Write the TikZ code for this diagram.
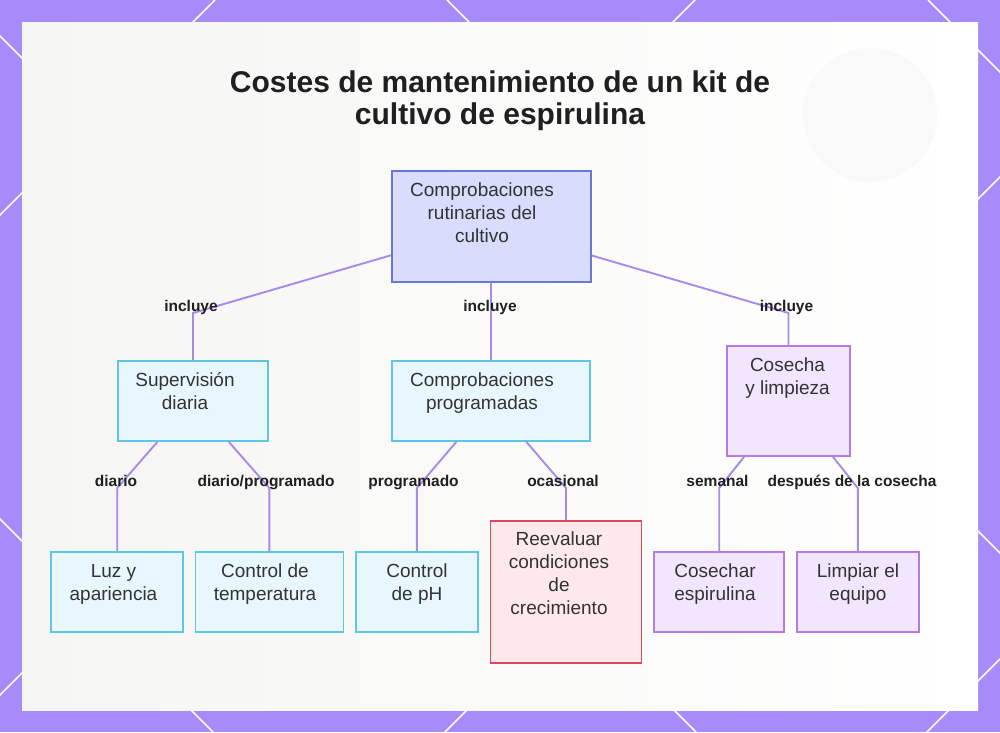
\documentclass[tikz,border=0pt]{standalone}
\usepackage{fontspec}
\setmainfont{Liberation Sans}
\definecolor{bgpurple}{HTML}{A78BFA}
\definecolor{edgec}{HTML}{A68BE8}
\definecolor{rootfill}{HTML}{D9DCFD}
\definecolor{rootdraw}{HTML}{6B78CF}
\definecolor{cyanfill}{HTML}{E8F7FD}
\definecolor{cyandraw}{HTML}{5EC6E3}
\definecolor{purfill}{HTML}{F1E6FD}
\definecolor{purdraw}{HTML}{B57BE3}
\definecolor{redfill}{HTML}{FDE8EC}
\definecolor{reddraw}{HTML}{D9495A}
\definecolor{txt}{HTML}{333333}
\definecolor{ttl}{HTML}{1F1F1F}
\definecolor{panelgrey}{HTML}{F5F5F3}
\tikzset{
  box/.style={rectangle, inner sep=0pt, line width=1.6pt},
  rootbox/.style={box, fill=rootfill, draw=rootdraw},
  cyanbox/.style={box, fill=cyanfill, draw=cyandraw},
  purbox/.style={box, fill=purfill, draw=purdraw},
  redbox/.style={box, fill=redfill, draw=reddraw},
  btext/.style={anchor=north, inner sep=0pt, align=center, text=txt, font=\fontsize{19}{23}\selectfont},
  elabel/.style={anchor=base, inner sep=0pt, text=ttl, font=\bfseries\fontsize{15.5}{18}\selectfont},
  edge/.style={draw=edgec, line width=1.9pt},
  lattice/.style={white, line width=1.5pt},
}
\begin{document}
\begin{tikzpicture}[x=1pt,y=-1pt]
\useasboundingbox (0,0) rectangle (1000,732);
\fill[bgpurple] (0,0) rectangle (1000,732);
\begin{scope}
  \clip (0,0) rectangle (1000,732);
  \foreach \c in {215,695,1177,1659} \draw[lattice] (\c,0) -- (\c-732,732);
  \foreach \d in {-519,-36,447,928} \draw[lattice] (\d,0) -- (\d+732,732);
\end{scope}
% panel
\shade[left color=panelgrey, right color=white] (22,22) rectangle (978,710);
\fill[gray!5] (870,115) circle (67);
\draw[white, line width=0.8pt] (920,655) circle (44);

% title
\node[anchor=north, inner sep=0pt, align=center, text=ttl, font=\bfseries\fontsize{30}{32}\selectfont] (title) at (500,69.6)
  {\strut Costes de mantenimiento de un kit de\\cultivo de espirulina};

% boxes
\node[rootbox, minimum width=199pt, minimum height=111pt] (root) at (491.2,226.2) {};
\node[cyanbox, minimum width=150pt, minimum height=80pt] (sup) at (193,401) {};
\node[cyanbox, minimum width=198pt, minimum height=80pt] (prog) at (491.2,401) {};
\node[purbox, minimum width=123pt, minimum height=110pt] (cos) at (788.5,401) {};
\node[cyanbox, minimum width=132pt, minimum height=80pt] (luz) at (117.2,592) {};
\node[cyanbox, minimum width=148pt, minimum height=80pt] (temp) at (269.3,592) {};
\node[cyanbox, minimum width=122pt, minimum height=80pt] (ph) at (416.9,592) {};
\node[redbox, minimum width=151pt, minimum height=142pt] (reev) at (566,591.8) {};
\node[purbox, minimum width=130pt, minimum height=80pt] (cosechar) at (719.2,592) {};
\node[purbox, minimum width=122pt, minimum height=80pt] (limp) at (857.8,592) {};

% box texts
\node[btext] (rootT) at (482,179.9) {\strut Comprobaciones\\rutinarias del\\cultivo};
\node[btext] (supT) at (185,369.9) {\strut Supervisión\\diaria};
\node[btext] (progT) at (482,369.9) {\strut Comprobaciones\\programadas};
\node[btext] (cosT) at (787.5,354.9) {\strut Cosecha\\y limpieza};
\node[btext] (luzT) at (113.5,560.9) {\strut Luz y\\apariencia};
\node[btext] (tempT) at (265,560.9) {\strut Control de\\temperatura};
\node[btext] (phT) at (417,560.9) {\strut Control\\de pH};
\node[btext] (reevT) at (559,528.9) {\strut Reevaluar\\condiciones\\de\\crecimiento};
\node[btext] (cosecharT) at (715,560.9) {\strut Cosechar\\espirulina};
\node[btext] (limpT) at (858,560.9) {\strut Limpiar el\\equipo};

% bend points
\coordinate (b1) at (sup |- 0,313);
\coordinate (b3) at (cos |- 0,313);
\coordinate (c1) at (luz |- 0,488);
\coordinate (c2) at (temp |- 0,488);
\coordinate (c3) at (ph |- 0,488);
\coordinate (c4) at (reev |- 0,488);
\coordinate (c5) at (cosechar |- 0,488);
\coordinate (c6) at (limp |- 0,488);

% edges
\draw[edge] (root) -- (b1) -- (sup);
\draw[edge] (root) -- (prog);
\draw[edge] (root) -- (b3) -- (cos);
\draw[edge] (sup) -- (c1) -- (luz);
\draw[edge] (sup) -- (c2) -- (temp);
\draw[edge] (prog) -- (c3) -- (ph);
\draw[edge] (prog) -- (c4) -- (reev);
\draw[edge] (cos) -- (c5) -- (cosechar);
\draw[edge] (cos) -- (c6) -- (limp);

% labels
\node[elabel] (l1) at (191,311) {incluye};
\node[elabel] (l2) at (490,311) {incluye};
\node[elabel] (l3) at (786.5,311) {incluye};
\node[elabel] (l4) at (116,486) {diario};
\node[elabel] (l5) at (266,486) {diario/programado};
\node[elabel] (l6) at (413.5,486) {programado};
\node[elabel] (l7) at (563,486) {ocasional};
\node[elabel] (l8) at (717.5,486) {semanal};
\node[elabel] (l9) at (852,486) {después de la cosecha};
\end{tikzpicture}
\end{document}
